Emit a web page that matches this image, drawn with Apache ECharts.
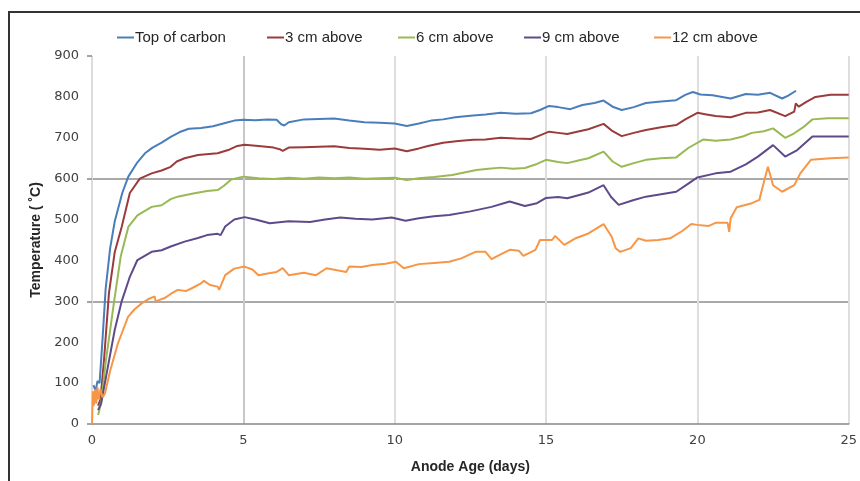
<!DOCTYPE html>
<html>
<head>
<meta charset="utf-8">
<script src="https://cdn.jsdelivr.net/npm/echarts@6/dist/echarts.min.js"></script>
<style>html,body{margin:0;padding:0;background:#fff}#c{width:860px;height:481px}</style>
</head>
<body>
<div id="c"></div>
<script>
var seriesNames = ['Top of carbon', '3 cm above', '6 cm above', '9 cm above', '12 cm above'];
var xTicks = [0, 5, 10, 15, 20, 25];
var yTicks = [0, 100, 200, 300, 400, 500, 600, 700, 800, 900];

var topCarbon = [[0.05,95],[0.12,80],[0.18,105],[0.25,100],[0.35,210],[0.45,330],[0.6,430],[0.75,495],[1.0,565],[1.2,605],[1.5,640],[1.75,662],[2.0,676],[2.3,688],[2.6,702],[2.9,714],[3.2,722],[3.6,724],[4.0,728],[4.4,736],[4.7,742],[5.0,744],[5.4,743],[5.8,745],[6.1,744],[6.25,733],[6.35,730],[6.5,738],[7.0,745],[7.5,746],[8.0,747],[8.5,742],[9.0,738],[9.5,737],[10.0,735],[10.4,729],[10.8,735],[11.2,742],[11.6,745],[12.0,750],[12.5,754],[13.0,757],[13.5,761],[14.0,759],[14.5,760],[14.8,768],[15.1,778],[15.4,775],[15.8,770],[16.2,780],[16.6,785],[16.9,791],[17.2,776],[17.5,768],[17.9,775],[18.3,785],[18.8,789],[19.3,792],[19.6,805],[19.85,812],[20.1,806],[20.5,804],[21.1,796],[21.6,807],[22.0,805],[22.4,810],[22.8,796],[23.0,803],[23.26,815]];
var cm3 = [[0.2,45],[0.28,60],[0.4,160],[0.56,320],[0.75,420],[0.98,482],[1.25,565],[1.58,600],[1.97,613],[2.3,620],[2.6,629],[2.8,642],[3.06,650],[3.5,658],[4.15,662],[4.5,670],[4.8,680],[5.04,683],[5.5,680],[6.0,676],[6.2,672],[6.3,668],[6.5,676],[7.0,677],[7.5,678],[8.0,679],[8.5,675],[9.0,673],[9.5,671],[10.0,674],[10.4,667],[10.8,674],[11.1,680],[11.6,688],[12.1,692],[12.6,695],[13.0,696],[13.5,700],[14.0,698],[14.5,697],[14.8,706],[15.1,715],[15.4,712],[15.7,709],[16.1,716],[16.4,721],[16.9,734],[17.2,716],[17.5,704],[17.9,712],[18.3,719],[18.8,726],[19.3,731],[19.6,745],[20.0,761],[20.3,757],[20.6,753],[21.1,750],[21.6,761],[22.0,762],[22.4,768],[22.9,753],[23.2,764],[23.25,784],[23.35,776],[23.6,788],[23.9,800],[24.4,805],[25.0,805]];
var cm6 = [[0.2,22],[0.3,50],[0.45,150],[0.6,230],[0.73,300],[0.95,410],[1.2,482],[1.5,510],[1.97,531],[2.3,535],[2.6,550],[2.83,556],[3.3,563],[3.8,570],[4.15,572],[4.35,582],[4.6,598],[5.0,605],[5.5,601],[6.0,599],[6.5,602],[7.0,600],[7.5,603],[8.0,601],[8.5,603],[9.0,600],[9.5,601],[10.0,602],[10.4,597],[10.8,601],[11.3,604],[11.9,609],[12.3,615],[12.7,621],[13.1,624],[13.5,627],[13.9,624],[14.3,626],[14.7,636],[15.0,646],[15.4,641],[15.7,638],[16.1,645],[16.4,650],[16.9,666],[17.2,642],[17.5,629],[17.9,638],[18.3,646],[18.8,650],[19.3,652],[19.7,675],[20.2,696],[20.6,693],[21.1,696],[21.5,703],[21.8,712],[22.2,716],[22.5,723],[22.9,700],[23.2,711],[23.5,726],[23.8,745],[24.3,748],[25.0,748]];
var cm9 = [[0.2,34],[0.3,50],[0.5,130],[0.75,230],[0.98,300],[1.25,360],[1.5,401],[1.97,421],[2.3,425],[2.6,434],[3.06,446],[3.5,455],[3.8,462],[4.15,465],[4.25,462],[4.4,483],[4.7,500],[5.04,506],[5.4,500],[5.87,491],[6.5,496],[7.2,494],[7.7,500],[8.2,505],[8.7,502],[9.26,500],[9.9,505],[10.36,497],[10.8,503],[11.3,508],[11.8,511],[12.5,520],[13.2,531],[13.8,544],[14.3,533],[14.7,540],[15.0,553],[15.4,555],[15.7,552],[16.1,560],[16.4,566],[16.9,584],[17.15,555],[17.4,536],[17.9,548],[18.3,556],[18.8,562],[19.3,568],[19.7,588],[20.0,603],[20.6,613],[21.1,617],[21.6,635],[22.0,654],[22.5,682],[22.9,654],[23.3,670],[23.8,703],[24.4,703],[25.0,703]];
var cm12 = [[0.0,0],[0.03,80],[0.06,45],[0.1,85],[0.14,50],[0.18,90],[0.22,60],[0.28,85],[0.35,65],[0.43,75],[0.6,130],[0.86,198],[1.0,225],[1.19,262],[1.4,280],[1.64,295],[1.85,305],[2.07,312],[2.1,300],[2.4,308],[2.6,318],[2.83,328],[3.1,325],[3.3,332],[3.6,344],[3.7,350],[3.9,340],[4.15,336],[4.2,328],[4.4,364],[4.7,380],[5.04,385],[5.3,378],[5.5,364],[5.8,368],[6.1,372],[6.3,381],[6.5,364],[7.0,370],[7.4,364],[7.75,381],[8.1,376],[8.4,372],[8.5,385],[8.9,384],[9.26,389],[9.7,392],[10.04,397],[10.3,381],[10.8,391],[11.3,394],[11.8,397],[12.2,405],[12.67,421],[13.0,421],[13.2,403],[13.5,415],[13.8,426],[14.1,424],[14.25,411],[14.65,426],[14.8,450],[15.2,450],[15.3,460],[15.6,438],[16.0,455],[16.4,466],[16.9,489],[17.17,458],[17.3,430],[17.45,421],[17.8,430],[18.05,454],[18.3,448],[18.7,450],[19.1,454],[19.5,472],[19.8,489],[20.0,487],[20.36,484],[20.6,492],[21.0,492],[21.05,470],[21.1,503],[21.3,530],[21.8,540],[22.05,548],[22.1,564],[22.33,629],[22.5,584],[22.8,568],[23.2,584],[23.4,613],[23.75,646],[24.4,650],[25.0,652]];

var seriesData = [topCarbon, cm3, cm6, cm9, cm12];
var colors = ['#4a7ebb', '#9b3b3b', '#98b954', '#5e4a8a', '#f79646'];
var legendLefts = [117, 267, 398, 524, 654];

var chart = echarts.init(document.getElementById('c'), null, {renderer: 'canvas'});
var labelFont = "'DejaVu Sans', sans-serif";
var textFont = "'Liberation Sans', sans-serif";

chart.setOption({
  animation: false,
  backgroundColor: '#fff',
  color: colors,
  graphic: [{
    type: 'polyline',
    shape: {points: [[9, 481], [9, 12], [860, 12]]},
    style: {stroke: '#333', lineWidth: 2, fill: null},
    silent: true
  }],
  legend: seriesNames.map(function (n, i) {
    return {
      top: 30,
      left: legendLefts[i],
      padding: 0,
      itemWidth: 17,
      itemHeight: 2,
      icon: 'rect',
      textStyle: {fontFamily: textFont, fontSize: 15, color: '#262626', padding: [0, 0, 0, -4]},
      data: [n]
    };
  }),
  grid: {left: 92, right: 9, top: 56, bottom: 57, containLabel: false},
  xAxis: {
    type: 'value', min: 0, max: 25, interval: 5,
    name: 'Anode Age (days)', nameLocation: 'middle', nameGap: 36,
    nameTextStyle: {fontFamily: textFont, fontSize: 14, fontWeight: 'bold', color: '#262626'},
    axisLine: {show: true, lineStyle: {color: '#868686', width: 1.5}},
    axisTick: {show: false},
    axisLabel: {fontFamily: labelFont, fontSize: 13, color: '#404040', margin: 10,
      formatter: function (v) { return xTicks.indexOf(v) >= 0 ? String(v) : ''; }},
    splitLine: {show: true, lineStyle: {color: ['#dcdcdc', '#c8c8c8', '#dedede', '#dedede', '#dedede', '#dedede'], width: 2}}
  },
  yAxis: [{
    type: 'value', min: 0, max: 900, interval: 100,
    name: 'Temperature ( \u02DAC)', nameLocation: 'middle', nameGap: 48, nameRotate: 90,
    nameTextStyle: {fontFamily: textFont, fontSize: 14, fontWeight: 'bold', color: '#262626'},
    axisLine: {show: false},
    axisTick: {show: false},
    axisLabel: {fontFamily: labelFont, fontSize: 13, color: '#404040', margin: 13,
      formatter: function (v) { return yTicks.indexOf(v) >= 0 ? String(v) : ''; }},
    splitLine: {show: false}
  }, {
    type: 'value', min: 0, max: 900, interval: 300, position: 'left',
    axisLine: {show: false},
    axisTick: {show: true, inside: false, length: 5, lineStyle: {color: '#868686', width: 1.5}},
    axisLabel: {show: false},
    splitLine: {show: true, showMinLine: false, showMaxLine: false, lineStyle: {color: '#8c8c8c', width: 1.5}}
  }],
  series: seriesNames.map(function (n, i) {
    return {
      name: n, type: 'line', data: seriesData[i], yAxisIndex: 0,
      symbol: 'none', showSymbol: false,
      lineStyle: {width: 2, color: colors[i]},
      itemStyle: {color: colors[i]}
    };
  })
});
</script>
</body>
</html>
